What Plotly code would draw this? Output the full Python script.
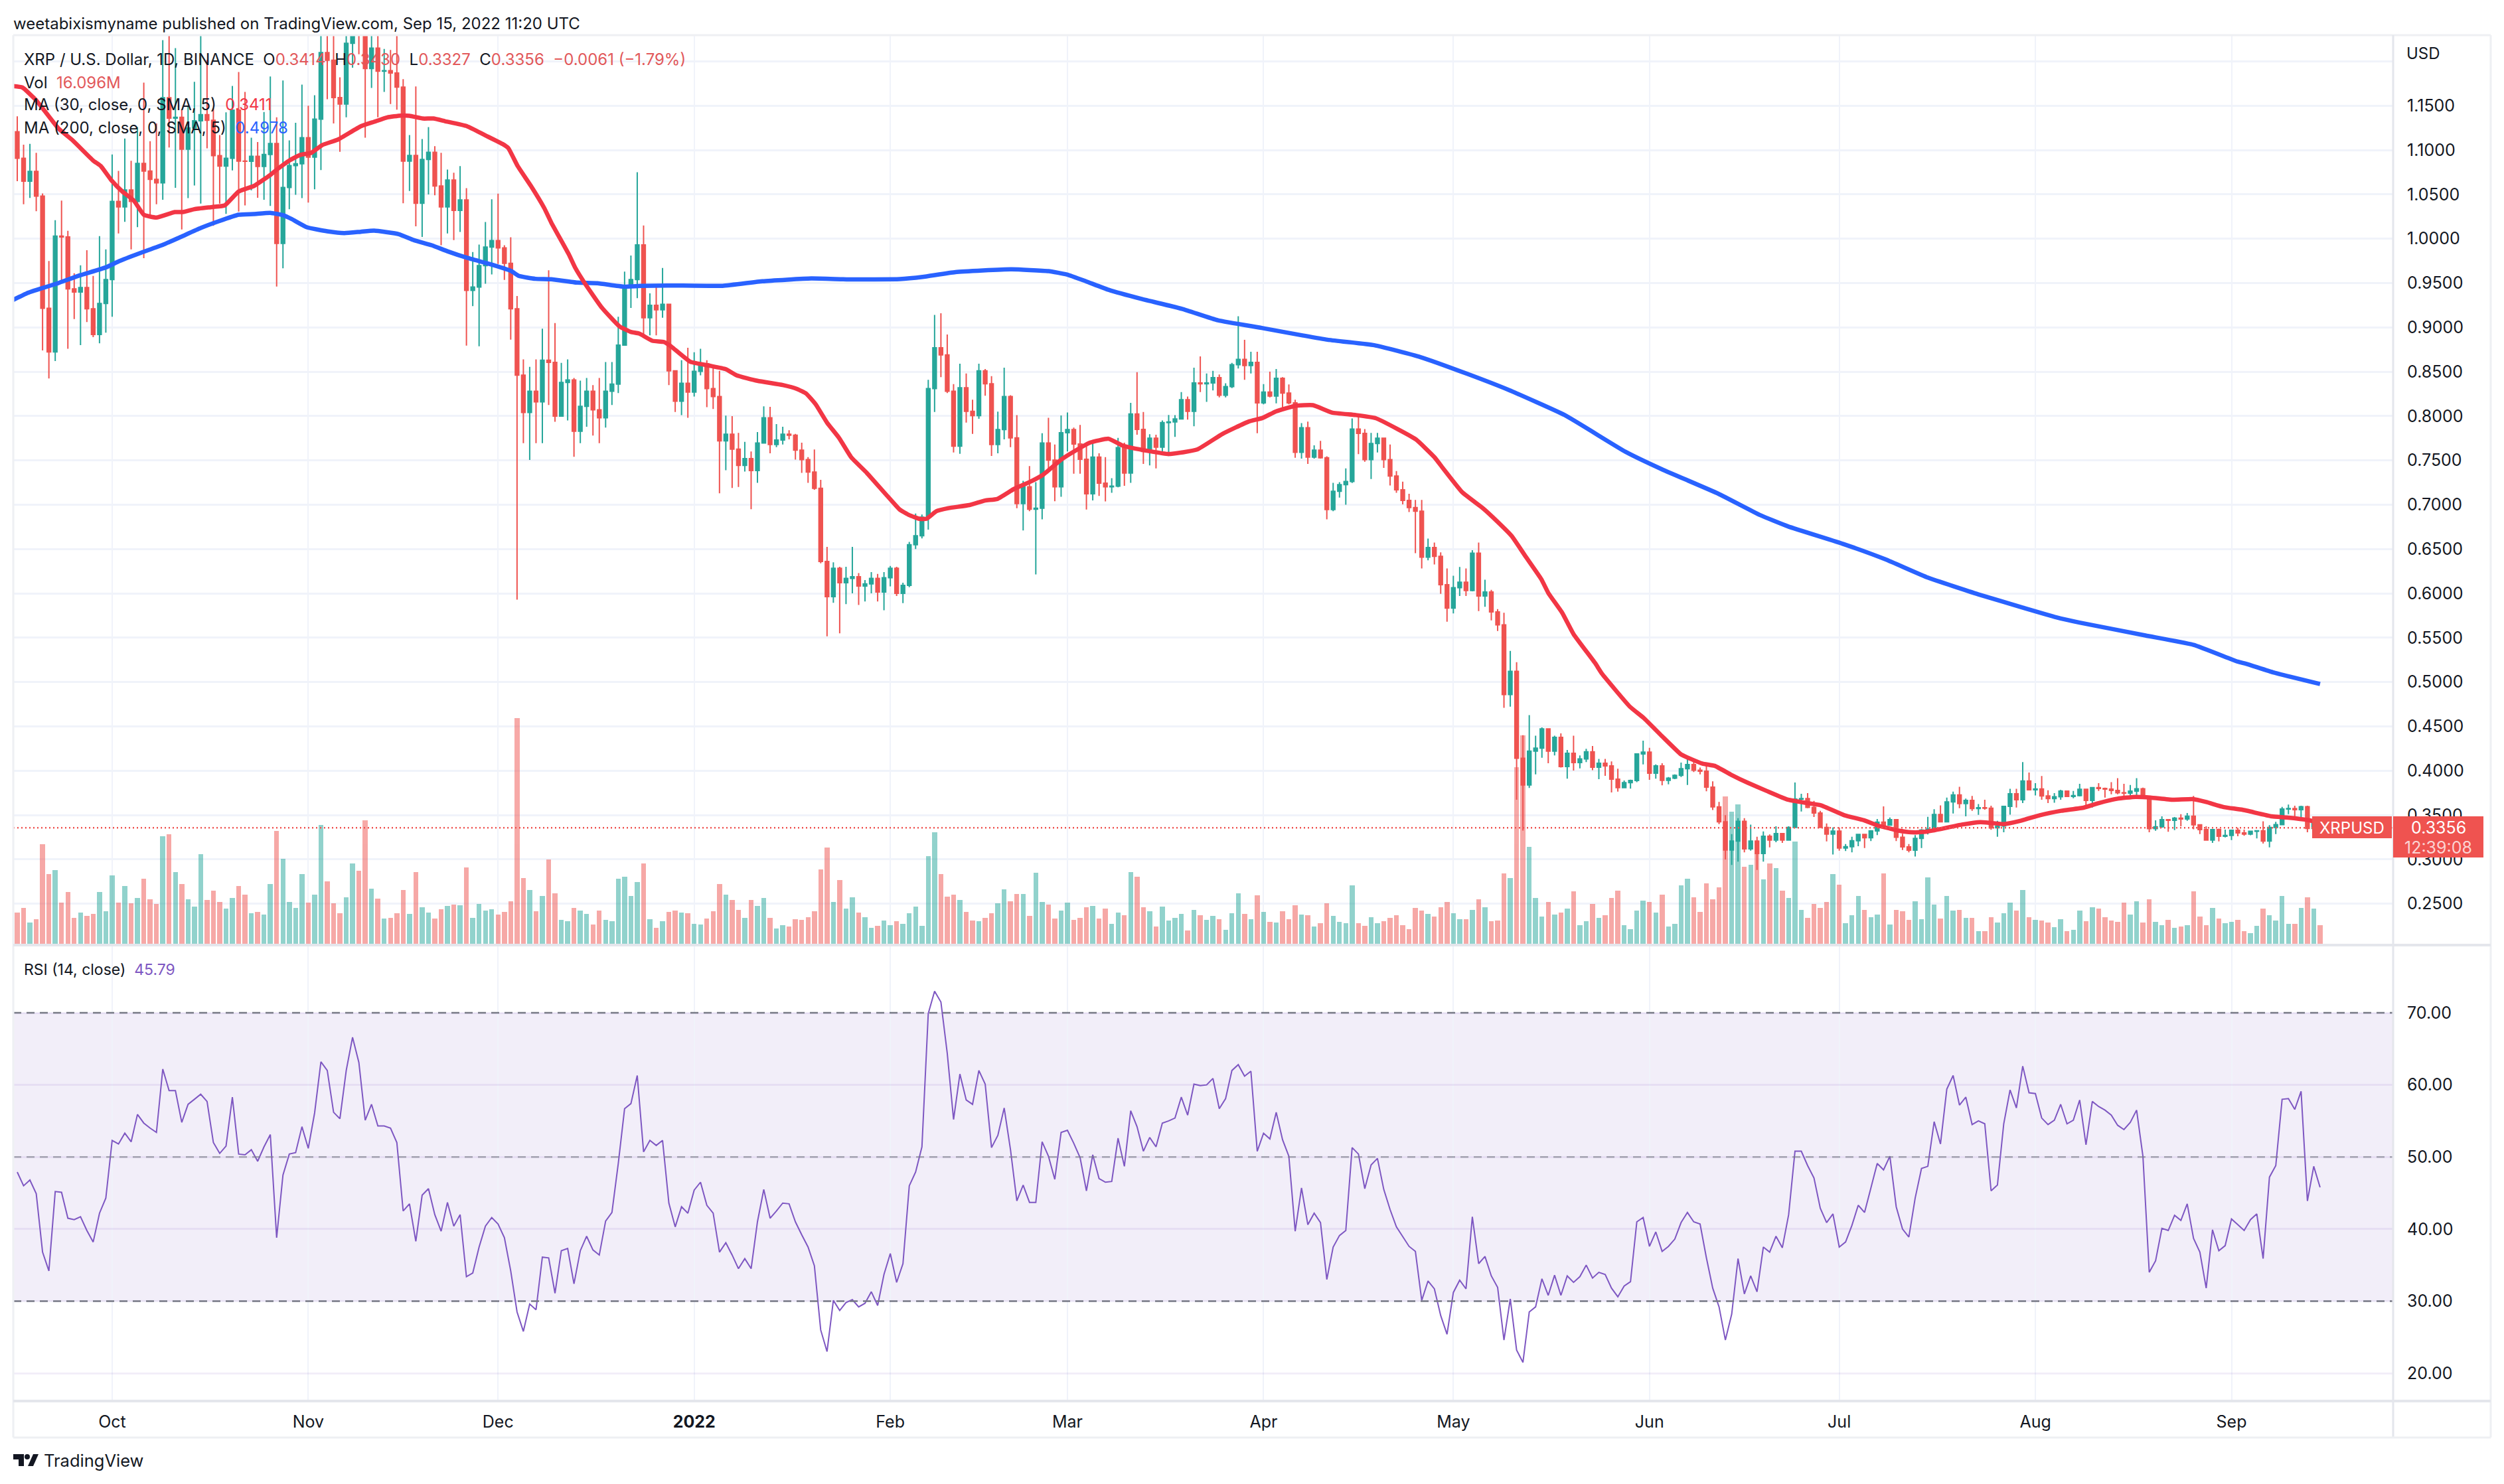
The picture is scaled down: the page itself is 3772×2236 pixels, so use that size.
import pandas as pd
import plotly.graph_objects as go

W = 3772
H = 2236
# pane edges, in page pixels
LEFT, RIGHT, OUTER = 20, 3605, 3752
TOP, PRICE_BOTTOM, RSI_TOP, RSI_BOTTOM, TIME_BOTTOM = 53, 1423, 1425, 2111, 2166

TEAL = "#26a69a"
RED = "#ef5350"
MA_RED = "#f23645"
MA_BLUE = "#2962ff"
PURPLE = "#7e57c2"
GRID = "#f0f3fa"
BORDER = "#e4e6ec"
FRAME = "#eef0f3"
INK = "#131722"
FONT = "Inter"

first_day = "2021-09-16"
first_open = 1.1207

close = [
    1.0907, 1.065, 1.076, 1.048, .9216, .8724, 1.003, 1.002, .9435, .940,
    .945, .921, .892, .927, .954, 1.042, 1.036, 1.055, 1.042, 1.085,
    1.0763, 1.067, 1.063, 1.159, 1.136, 1.137, 1.101, 1.125, 1.133, 1.140,
    1.1336, 1.0937, 1.082, 1.0907, 1.145, 1.0875, 1.0873, 1.093, 1.0815, 1.095,
    1.1074, .9947, 1.0578, 1.0825, 1.0845, 1.114, 1.092, 1.135, 1.21, 1.2013,
    1.1593, 1.1519, 1.2205, 1.27, 1.262, 1.192, 1.215, 1.189, 1.1895, 1.187,
    1.171, 1.0875, 1.094, 1.040, 1.0895, 1.0975, 1.0595, 1.036, 1.0663, 1.032,
    1.0438, .9418, .9455, .9697, .9907, .998, .9897, .9722, .921, .8462,
    .804, .828, .816, .863, .8606, .800, .838, .8407, .783, .811,
    .828, .807, .798, .828, .836, .88, .947, .954, .993, .911,
    .925, .9198, .926, .851, .8167, .837, .827, .8505, .859, .831,
    .822, .772, .7795, .7627, .7444, .752, .7386, .7696, .798, .768,
    .773, .7795, .7785, .7616, .751, .7368, .7186, .636, .5963, .6284,
    .612, .617, .6187, .6084, .6108, .617, .6015, .6177, .6284, .6,
    .609, .655, .665, .686, .831, .877, .869, .828, .766, .832,
    .8054, .8005, .851, .8364, .768, .7847, .822, .7754, .7014, .7203,
    .695, .696, .7696, .7503, .7203, .7813, .7847, .7685, .7513, .7124,
    .7537, .7244, .7203, .721, .7644, .7358, .8023, .785, .76, .775,
    .765, .7926, .7933, .7968, .8185, .8054, .8374, .8364, .8374, .8433,
    .8236, .8333, .858, .864, .857, .8605, .815, .827, .8226, .8426,
    .826, .815, .7592, .7868, .7537, .7616, .753, .6945, .7151, .7227,
    .7262, .7853, .7805, .7509, .7691, .775, .7509, .7323, .7169, .7048,
    .6969, .6928, .6408, .6518, .6419, .6099, .5834, .6064, .6126, .6033,
    .6453, .5971, .6016, .5792, .5645, .486, .5122, .4141, .384, .4222,
    .4254, .4471, .4222, .4376, .4047, .4197, .4092, .4134, .4214, .404,
    .4085, .4055, .3905, .381, .3865, .389, .419, .421, .3972, .4055,
    .3892, .3917, .3947, .4022, .407, .4005, .3995, .3815, .3593, .3423,
    .3106, .3206, .343, .3119, .3206, .3067, .3261, .3219, .3291, .3219,
    .3361, .368, .3685, .3586, .3523, .3361, .3286, .3319, .3129, .3144,
    .3211, .3281, .3244, .3321, .342, .3386, .3448, .3249, .3141, .3104,
    .3236, .3331, .3341, .3506, .3423, .3648, .3728, .363, .3665, .3573,
    .3583, .3578, .3356, .3378, .3598, .374, .3673, .3885, .3785, .3795,
    .3715, .3685, .3707, .377, .371, .372, .379, .3665, .381, .38,
    .3792, .3777, .3752, .3747, .377, .3797, .3698, .3348, .3368, .3448,
    .344, .3465, .3455, .3488, .3391, .3336, .3218, .3336, .3261, .3271,
    .3328, .3298, .3286, .3318, .3323, .3206, .3361, .3393, .3568, .3573,
    .356, .3595, .335, .3414, .3356,
]

high = [
    1.138, 1.106, 1.107, 1.097, 1.051, .975, 1.021, 1.043, 1.009, .961,
    .970, .987, .958, 1.003, .988, 1.095, 1.0765, 1.113, 1.088, 1.126,
    1.176, 1.110, 1.13, 1.224, 1.24, 1.215, 1.1456, 1.15, 1.177, 1.25,
    1.2018, 1.147, 1.117, 1.1426, 1.1723, 1.188, 1.1656, 1.114, 1.109, 1.143,
    1.183, 1.137, 1.1786, 1.111, 1.1307, 1.1738, 1.150, 1.1618, 1.24, 1.235,
    1.24, 1.182, 1.24, 1.30, 1.32, 1.33, 1.25, 1.24, 1.214, 1.213,
    1.235, 1.18, 1.117, 1.1718, 1.1124, 1.126, 1.1045, 1.097, 1.078, 1.0745,
    1.082, 1.057, .985, .9934, 1.0189, 1.0446, 1.0508, .9927, 1.0017, .9355,
    .864, .8555, .864, .8985, .9645, .905, .86, .864, .843, .84,
    .843, .835, .843, .861, .861, .912, .963, .981, 1.075, 1.015,
    .9385, .947, .967, .925, .8515, .863, .877, .872, .876, .863,
    .856, .851, .8005, .80, .781, .771, .76, .782, .811, .8105,
    .791, .788, .784, .78, .77, .7537, .7623, .728, .6525, .635,
    .63, .63, .6525, .623, .615, .624, .622, .624, .631, .63,
    .612, .658, .69, .689, .841, .914, .916, .892, .836, .859,
    .848, .8185, .859, .853, .845, .805, .8546, .8236, .801, .727,
    .7437, .7255, .7806, .798, .768, .8006, .804, .787, .79, .77,
    .771, .758, .7537, .73, .7754, .77, .815, .8495, .8047, .7795,
    .779, .795, .8012, .801, .827, .822, .8546, .8674, .848, .851,
    .847, .837, .860, .9125, .886, .8725, .8725, .836, .85, .853,
    .844, .8357, .8185, .792, .7937, .767, .772, .7547, .7248, .7255,
    .741, .7973, .80, .7853, .781, .781, .775, .768, .738, .726,
    .7124, .7055, .7055, .6618, .6573, .6463, .6281, .62, .6298, .6281,
    .6487, .6573, .6154, .604, .5823, .5782, .5352, .5225, .44, .4628,
    .4396, .4489, .4475, .4396, .4421, .4234, .4396, .4172, .4247, .4279,
    .4134, .4134, .4105, .4022, .389, .39, .4197, .4339, .4259, .4072,
    .4085, .393, .396, .4092, .416, .41, .4035, .406, .388, .3648,
    .3498, .3286, .3466, .3466, .3393, .3256, .3316, .3281, .3373, .3295,
    .3373, .3867, .374, .3748, .366, .3548, .3406, .3361, .3361, .3174,
    .3256, .329, .329, .333, .3456, .3598, .3473, .3448, .329, .3174,
    .3274, .3341, .348, .3566, .361, .3698, .3765, .3818, .3685, .3715,
    .3625, .3673, .3605, .3436, .36, .3797, .3797, .4097, .398, .386,
    .394, .378, .3747, .3785, .3772, .3772, .3852, .3797, .3815, .386,
    .381, .3872, .3917, .3852, .384, .3917, .381, .371, .344, .3485,
    .3453, .3478, .351, .3523, .3715, .3398, .3373, .3341, .3348, .3336,
    .3336, .3356, .3336, .3323, .3331, .343, .3386, .3423, .3593, .3618,
    .3605, .3605, .3605, .346, .343,
]

low = [
    1.065, 1.039, 1.046, 1.031, .874, .8425, .862, .952, .876, .9094,
    .880, .906, .889, .882, .894, .912, 1.006, 1.019, .988, 1.013,
    .978, 1.024, 1.039, 1.044, 1.103, 1.0575, 1.0104, 1.0458, 1.06, 1.0396,
    1.102, 1.0146, 1.0396, 1.028, 1.077, 1.0306, 1.0376, 1.0546, 1.0463, 1.044,
    1.037, .946, .9667, 1.0333, 1.0496, 1.0458, 1.0408, 1.0558, 1.0775, 1.1573,
    1.130, 1.098, 1.137, 1.193, 1.208, 1.114, 1.170, 1.137, 1.1656, 1.152,
    1.1456, 1.040, 1.0538, 1.014, 1.002, 1.050, 1.049, .9927, 1.006, .9984,
    1.0076, .8794, .924, .8787, .9493, .9597, .9715, .9535, .8862, .593,
    .7695, .7505, .7695, .7695, .8125, .7935, .802, .795, .754, .7695,
    .788, .778, .7695, .787, .8125, .826, .8795, .922, .933, .890,
    .891, .891, .911, .835, .8047, .801, .798, .822, .846, .81,
    .808, .713, .739, .719, .720, .7375, .695, .7248, .77, .758,
    .765, .768, .7737, .751, .736, .7248, .7169, .634, .5516, .5894,
    .555, .588, .6, .587, .591, .6, .591, .581, .608, .597,
    .589, .607, .65, .662, .672, .8047, .844, .826, .759, .7575,
    .7926, .78, .797, .823, .755, .758, .7737, .765, .696, .671,
    .6928, .6215, .6835, .741, .704, .709, .76, .735, .735, .6945,
    .7048, .71, .7038, .7134, .7196, .7213, .7248, .779, .746, .7444,
    .741, .7558, .7548, .7765, .796, .796, .7885, .827, .816, .829,
    .821, .821, .8315, .8536, .841, .848, .7806, .8133, .821, .8143,
    .808, .8133, .753, .752, .746, .752, .752, .6835, .6928, .708,
    .70, .7245, .757, .7485, .729, .759, .7416, .7217, .7134, .7003,
    .6917, .6453, .6281, .6374, .6326, .5995, .568, .5775, .597, .597,
    .6023, .58, .585, .5696, .5576, .4709, .4723, .3673, .3324, .3805,
    .396, .4147, .4085, .4172, .4035, .391, .4002, .4027, .4097, .4005,
    .3905, .3942, .3755, .3765, .3805, .3798, .3872, .4072, .3897, .391,
    .3835, .3847, .3905, .393, .384, .3985, .396, .3768, .3556, .3398,
    .2999, .2937, .2974, .3079, .3099, .2882, .2974, .3136, .3194, .3186,
    .3215, .3354, .354, .3578, .3478, .3356, .3204, .3056, .3099, .3094,
    .3079, .3149, .3129, .3206, .3274, .336, .3386, .3206, .3106, .3079,
    .3032, .3129, .3281, .3324, .3418, .3423, .3518, .3578, .3486, .3548,
    .3503, .356, .3335, .3256, .3306, .3505, .3585, .3635, .3783, .3722,
    .3673, .3635, .364, .3673, .3703, .369, .371, .361, .3585, .3772,
    .3698, .3735, .3735, .3673, .368, .371, .3685, .3306, .3323, .3356,
    .3311, .333, .3373, .3436, .334, .3286, .3211, .3186, .3203, .3248,
    .3218, .3261, .3266, .3273, .3236, .3179, .3136, .3286, .3386, .351,
    .3485, .3478, .3306, .334, .3327,
]

# millions
volume = [
    27.2, 31.2, 18.6, 21.5, 85.9, 60.2, 63.7, 35.7, 44.8, 22.6,
    27.2, 24.3, 26.0, 44.8, 28.3, 59.1, 35.7, 50.0, 35.2, 39.7,
    56.2, 38.6, 34.6, 92.7, 94.4, 61.9, 51.7, 38.6, 32.3, 77.3,
    38.0, 46.0, 36.3, 30.6, 39.7, 50.0, 42.6, 26.6, 27.7, 25.5,
    51.7, 97.3, 73.3, 36.3, 31.2, 60.2, 35.7, 42.6, 102.4, 54.0,
    35.2, 26.6, 40.3, 69.4, 63.1, 106.4, 47.7, 39.1, 22.0, 22.6,
    26.6, 46.6, 26.0, 61.9, 31.7, 27.2, 22.0, 30.0, 32.9, 34.0,
    33.4, 65.9, 22.6, 34.6, 28.9, 30.0, 25.5, 27.7, 36.9, 194.2,
    56.8, 46.6, 28.3, 41.4, 72.8, 43.7, 20.9, 19.8, 31.2, 28.9,
    26.0, 16.9, 28.9, 20.9, 19.8, 56.2, 58.0, 41.4, 53.4, 69.4,
    21.5, 14.1, 19.8, 27.7, 28.9, 27.2, 26.6, 17.5, 16.9, 22.0,
    28.3, 51.7, 42.6, 38.0, 29.5, 22.6, 38.0, 32.9, 39.7, 22.6,
    13.5, 16.3, 15.2, 21.5, 20.9, 23.2, 28.3, 64.2, 83.0, 36.3,
    55.1, 30.6, 40.3, 27.2, 23.2, 14.1, 15.8, 20.3, 16.3, 19.8,
    17.5, 26.6, 32.3, 15.8, 75.6, 96.1, 60.2, 40.9, 42.6, 38.0,
    27.7, 20.3, 19.8, 22.6, 26.6, 35.2, 47.1, 36.9, 43.1, 43.1,
    24.3, 61.4, 36.3, 34.0, 22.0, 28.9, 35.7, 20.9, 22.6, 31.7,
    32.9, 22.0, 30.6, 17.5, 27.2, 24.9, 61.9, 58.0, 31.7, 28.3,
    15.2, 32.3, 20.3, 22.6, 26.0, 11.8, 29.5, 24.9, 20.9, 24.3,
    21.5, 12.4, 26.6, 43.7, 26.0, 21.5, 42.0, 27.7, 19.2, 18.6,
    28.3, 21.5, 33.4, 25.5, 24.9, 15.2, 18.1, 35.2, 24.3, 19.2,
    18.1, 50.5, 18.1, 15.8, 23.2, 18.1, 19.8, 22.6, 24.9, 16.3,
    12.9, 31.2, 28.9, 26.0, 23.8, 31.7, 36.3, 26.6, 21.5, 21.5,
    29.5, 38.6, 31.7, 19.8, 20.3, 60.8, 56.8, 152.0, 179.4, 83.6,
    39.7, 23.8, 36.3, 25.5, 27.2, 30.6, 45.4, 16.3, 19.8, 34.6,
    22.6, 24.9, 39.7, 46.0, 16.3, 12.9, 28.9, 37.4, 36.3, 27.2,
    42.6, 15.2, 17.5, 50.5, 56.2, 40.3, 27.7, 52.3, 38.6, 48.8,
    126.9, 113.8, 120.1, 66.5, 68.0, 78.9, 55.7, 69.2, 65.4, 46.0,
    39.7, 88.0, 29.5, 22.6, 34.6, 31.2, 36.3, 60.2, 51.1, 18.1,
    24.9, 41.4, 29.5, 23.2, 25.5, 60.8, 16.9, 29.5, 28.3, 20.9,
    36.9, 21.5, 57.4, 34.0, 22.0, 41.4, 28.9, 29.5, 22.4, 22.4,
    11.2, 11.2, 23.2, 18.6, 26.6, 35.7, 28.9, 46.6, 23.2, 20.9,
    20.3, 18.6, 14.6, 21.5, 11.2, 12.4, 28.9, 19.8, 31.7, 30.6,
    23.2, 20.3, 19.2, 35.7, 25.5, 36.9, 18.6, 38.6, 19.2, 16.3,
    20.9, 14.1, 15.2, 16.3, 45.4, 23.8, 16.3, 31.2, 22.0, 18.1,
    19.2, 20.9, 11.2, 9.5, 15.8, 30.6, 24.9, 20.3, 41.4, 17.5,
    17.5, 31.2, 40.3, 30.6, 16.096,
]

rsi = [
    47.9, 46.0, 46.8, 44.9, 36.8, 34.2, 45.2, 45.1, 41.5, 41.3,
    41.7, 39.8, 38.2, 42.2, 44.3, 52.3, 51.8, 53.3, 52.1, 55.9,
    54.7, 54.0, 53.4, 62.2, 59.2, 59.2, 54.8, 57.3, 58.0, 58.7,
    57.7, 52.0, 50.5, 51.5, 58.3, 50.4, 50.3, 51.0, 49.4, 51.4,
    53.1, 38.8, 47.5, 50.4, 50.6, 54.2, 51.2, 56.1, 63.2, 62.0,
    56.2, 55.3, 62.0, 66.6, 63.1, 55.1, 57.3, 54.3, 54.3, 54.0,
    52.0, 42.5, 43.5, 38.3, 44.7, 45.6, 42.0, 39.7, 43.7, 40.4,
    42.0, 33.4, 33.9, 37.5, 40.4, 41.6, 40.7, 38.8, 34.2, 28.5,
    25.8, 29.6, 28.8, 36.1, 36.0, 31.1, 37.0, 37.3, 32.4, 37.0,
    39.0, 37.1, 36.4, 41.1, 42.3, 49.1, 56.7, 57.4, 61.3, 50.7,
    52.3, 51.6, 52.3, 43.6, 40.3, 43.1, 42.2, 45.4, 46.5, 43.3,
    42.2, 36.8, 38.1, 36.4, 34.5, 35.9, 34.5, 41.0, 45.5, 41.5,
    42.5, 43.6, 43.5, 41.0, 39.2, 37.5, 34.9, 26.0, 23.0, 30.1,
    28.7, 29.8, 30.2, 29.2, 29.7, 31.3, 29.4, 33.7, 36.6, 32.6,
    35.2, 46.0, 47.9, 51.4, 69.9, 73.0, 71.5, 64.4, 55.2, 61.5,
    57.9, 57.3, 62.0, 60.1, 51.3, 53.0, 56.8, 51.0, 43.9, 46.1,
    43.7, 43.7, 52.1, 50.1, 46.9, 53.4, 53.7, 51.9, 49.9, 45.3,
    50.3, 47.0, 46.5, 46.6, 52.6, 48.7, 56.4, 54.2, 50.8, 52.7,
    51.4, 54.7, 55.0, 55.4, 58.3, 55.8, 60.1, 59.9, 60.0, 60.9,
    56.7, 58.1, 62.0, 62.8, 61.2, 61.9, 50.8, 53.3, 52.5, 56.2,
    52.4, 50.1, 39.7, 45.7, 40.6, 42.2, 40.9, 33.0, 37.5, 39.1,
    39.8, 51.3, 50.4, 45.6, 48.9, 49.8, 45.5, 42.7, 40.3, 38.9,
    37.6, 36.9, 30.1, 32.8, 31.7, 28.0, 25.4, 31.2, 32.9, 31.7,
    41.7, 35.2, 36.2, 33.5, 31.9, 24.6, 30.3, 23.2, 21.5, 28.5,
    29.2, 33.1, 30.8, 33.6, 30.8, 33.5, 32.6, 33.4, 35.0, 33.2,
    34.0, 33.7, 31.8, 30.6, 32.1, 32.7, 41.0, 41.6, 37.6, 39.6,
    36.9, 37.6, 38.6, 40.9, 42.3, 41.0, 40.7, 36.0, 31.8, 29.2,
    24.6, 28.2, 35.9, 31.0, 33.5, 31.3, 37.5, 36.8, 39.0, 37.4,
    42.0, 50.8, 50.8, 48.8, 47.1, 42.9, 40.9, 42.1, 37.5, 38.2,
    40.5, 43.3, 42.3, 45.7, 49.1, 48.2, 50.1, 43.1, 40.0, 38.9,
    44.3, 48.4, 48.7, 54.9, 51.8, 59.4, 61.3, 57.2, 58.3, 54.5,
    55.0, 54.6, 45.3, 46.1, 54.6, 59.3, 56.8, 62.6, 58.9, 58.8,
    55.4, 54.5, 55.1, 57.3, 54.6, 55.1, 57.9, 51.7, 57.7, 57.0,
    56.5, 55.8, 54.4, 53.8, 54.8, 56.5, 50.1, 34.0, 35.6, 40.1,
    39.8, 41.9, 41.2, 43.5, 38.7, 36.8, 31.8, 39.9, 37.0, 37.7,
    41.4, 40.6, 39.8, 41.3, 42.1, 35.9, 47.2, 48.8, 58.0, 58.1,
    56.6, 59.1, 43.9, 48.7, 45.79,
]

# moving averages, read at days counted from first_day
ma30_days = [
    -1, .8, 2.9, 4.3, 6.5, 8.8, 12, 13.2, 14.9, 16.6, 18.4, 20, 22, 24.9, 26.2, 28, 30.8, 32.8, 35, 37.4,
    40, 41.3, 43, 44.7, 46.5, 48.2, 50.7, 54.3, 56.4, 58.5, 60.6, 62, 64.1, 65.8, 67.6, 71.1, 73.9, 76.7, 77.6, 79.1,
    81.2, 83.3, 84.4, 87.2, 88.2, 89.6, 92.4, 95.2, 97, 98.3, 100.4, 102.2, 103.2, 106.4, 109.3, 112, 113.7, 117, 121, 123.3,
    124.7, 126.2, 128, 129.9, 131.8, 134.3, 137.3, 139.5, 141, 142.6, 143.7, 145.3, 147.2, 150.5, 153, 154.9, 157.5, 160, 162.2, 165.1,
    167.4, 169.6, 172.5, 174.7, 176.2, 182, 186.5, 190.5, 194.6, 196.8, 199, 202, 204.8, 207.8, 211.5, 214.7, 218.2, 221.1, 224, 225.5,
    228.4, 231.7, 233.9, 236.2, 238.4, 240.9, 242, 244.2, 246, 249.4, 250.5, 254.9, 257.1, 260, 263, 264.5, 266.4, 268.3, 270.9, 273.5,
    276.5, 279.9, 282.9, 285.1, 288.8, 291.9, 294.1, 296, 297.5, 299.4, 301.6, 303.9, 307.4, 310.3, 312, 314, 316.7, 319.7, 323.1, 326.7,
    329, 332, 334.8, 337.2, 340.7, 343.9, 346, 348.8, 351.7, 356.4, 358.7, 362.2, 364,
]
ma30 = [
    1.1723, 1.1706, 1.1569, 1.1444, 1.1244, 1.1107, 1.0882, 1.082, 1.0658, 1.0533, 1.0433, 1.0271, 1.0239, 1.0301, 1.0301, 1.0334, 1.0358, 1.0376, 1.0533, 1.0595,
    1.072, 1.0795, 1.0882, 1.0945, 1.097, 1.1057, 1.1119, 1.1269, 1.1319, 1.1369, 1.1389, 1.1386, 1.1356, 1.1356, 1.1326, 1.1269, 1.1169, 1.1069, 1.1025, 1.082,
    1.0595, 1.0346, 1.0184, .9822, .9672, .951, .9223, .9011, .8949, .8931, .8849, .8836, .8794, .8612, .857, .8529, .846, .8398, .835, .8305,
    .8254, .8133, .7926, .7754, .7537, .7358, .7117, .6945, .6883, .6841, .6841, .6928, .6962, .6996, .7048, .7065, .7176, .7255, .7341, .7513,
    .7616, .7702, .7744, .7668, .7641, .7572, .7623, .7799, .7937, .7978, .8054, .8116, .8123, .804, .8012, .7977, .7853, .7736, .7537, .7399,
    .7141, .6959, .6814, .6649, .6419, .6161, .6006, .5782, .5541, .5215, .5094, .4723, .4595, .4389, .4184, .4134, .408, .4055, .3955, .3865,
    .3773, .3673, .3635, .361, .3498, .3441, .3381, .3348, .3323, .3306, .3311, .3341, .3393, .3421, .3411, .3398, .3436, .3498, .3548, .3585,
    .3635, .3685, .3705, .3698, .3673, .368, .3647, .359, .356, .3485, .3473, .3443, .3411,
]
ma200_days = [
    -1, 1.5, 3.6, 6.4, 9.8, 14, 16.1, 19.3, 23.1, 25.9, 29, 31.8, 35, 37.4, 40, 42, 43.4, 45.8, 49, 51.7,
    54.3, 56.4, 60.3, 62.7, 65.5, 68, 71.1, 74.9, 78.1, 79.3, 81.9, 84.4, 88.5, 91.7, 95.8, 98.6, 102.8, 111.5, 117.8, 125.5,
    131.4, 139.5, 143.1, 148.3, 157, 163, 165.9, 168.9, 172.5, 177.7, 184.2, 189.8, 196.7, 203.3, 207.1, 214.5, 221.8, 229.2, 235.8, 244.6,
    254.2, 260, 268.9, 275.5, 279.9, 288.7, 295.3, 302, 310, 317.3, 322.3, 326, 336.4, 344, 351, 352.3, 356.7, 364,
]
ma200 = [
    .9298, .9385, .9435, .9498, .9585, .9677, .9747, .9835, .9934, 1.0022, 1.0121, 1.0196, 1.0271, 1.0279, 1.0291, 1.0266, 1.0221, 1.0129, 1.0084, 1.0064,
    1.0079, 1.0091, 1.0052, .9984, .9927, .9859, .9785, .971, .9635, .958, .9548, .9543, .9505, .9498, .946, .9468, .9473, .9469, .9521, .9552,
    .9542, .9545, .9569, .9624, .9655, .9635, .9597, .9521, .9424, .9321, .9208, .908, .8994, .8908, .8861, .8799, .8665, .8476, .8293, .8011,
    .7598, .7399, .7124, .6883, .6756, .6556, .6384, .6178, .5989, .5834, .5731, .5671, .5525, .542, .523, .5207, .5107, .4978,
]

price_ticks = [.25, .30, .35, .40, .45, .50, .55, .60, .65, .70, .75, .80, .85, .90, .95, 1.00, 1.05, 1.10, 1.15, 1.20]
# the 1.20 gridline has no label, "USD" sits there
price_labels = ["0.2500", "0.3000", "0.3500", "0.4000", "0.4500", "0.5000", "0.5500", "0.6000", "0.6500", "0.7000",
                "0.7500", "0.8000", "0.8500", "0.9000", "0.9500", "1.0000", "1.0500", "1.1000", "1.1500", ""]
rsi_ticks = [20, 30, 40, 50, 60, 70]
month_ticks = ["2021-10-01", "2021-11-01", "2021-12-01", "2022-01-01", "2022-02-01", "2022-03-01",
               "2022-04-01", "2022-05-01", "2022-06-01", "2022-07-01", "2022-08-01", "2022-09-01"]
month_labels = ["Oct", "Nov", "Dec", "<b>2022</b>", "Feb", "Mar", "Apr", "May", "Jun", "Jul", "Aug", "Sep"]
last_price = 0.3356

start = pd.Timestamp(first_day)
dates = pd.date_range(start, periods=len(close), freq="D")
opens = [first_open] + close[:-1]
ma30_x = start + pd.to_timedelta(ma30_days, unit="D")
ma200_x = start + pd.to_timedelta(ma200_days, unit="D")

# 9.53 px per day, first bar sits at x=26
x_from = start + pd.Timedelta(days=(LEFT - 26) / 9.53)
x_to = start + pd.Timedelta(days=(RIGHT - 26) / 9.53)


def px(x):
    return x / W


def py(y):
    return 1 - y / H


def label(x, y, text, size=24, color=INK, anchor="left", family=FONT):
    return dict(
        x=px(x), y=py(y), xref="paper", yref="paper", text=text, showarrow=False,
        xanchor=anchor, yanchor="middle", font=dict(size=size, color=color, family=family),
        borderpad=0, borderwidth=0,
    )


def red_val(s):
    return f'<span style="color:#e2585a">{s}</span>'


def box(x0, y0, x1, y1, color):
    return dict(type="rect", xref="paper", yref="paper", x0=px(x0), x1=px(x1), y0=py(y0), y1=py(y1),
                fillcolor=color, line_width=0, layer="above")


def rule(x0, y0, x1, y1, width=3, color=BORDER):
    return dict(type="line", xref="paper", yref="paper", x0=px(x0), x1=px(x1), y0=py(y0), y1=py(y1),
                line=dict(color=color, width=width), layer="above")


fig = go.Figure()

fig.add_trace(go.Bar(
    x=dates, y=volume, yaxis="y", xaxis="x",
    marker=dict(color=[TEAL if c >= o else RED for o, c in zip(opens, close)], line_width=0),
    opacity=0.5, width=0.78 * 86400000,
))
fig.add_trace(go.Candlestick(
    x=dates, open=opens, high=high, low=low, close=close, yaxis="y3", xaxis="x",
    increasing=dict(line=dict(color=TEAL, width=2), fillcolor=TEAL),
    decreasing=dict(line=dict(color=RED, width=2), fillcolor=RED),
    whiskerwidth=0,
))
fig.add_trace(go.Scatter(x=ma200_x, y=ma200, yaxis="y3", xaxis="x", mode="lines",
                         line=dict(color=MA_BLUE, width=6.5, shape="spline", smoothing=0.4)))
fig.add_trace(go.Scatter(x=ma30_x, y=ma30, yaxis="y3", xaxis="x", mode="lines",
                         line=dict(color=MA_RED, width=6.5, shape="spline", smoothing=0.4)))
fig.add_trace(go.Scatter(x=dates, y=rsi, yaxis="y2", xaxis="x2", mode="lines",
                         line=dict(color=PURPLE, width=2)))

shapes = [
    # rsi band and levels
    dict(type="rect", xref="x2", yref="y2", x0=x_from, x1=x_to, y0=30, y1=70,
         fillcolor="rgba(126,87,194,0.1)", line_width=0, layer="below"),
    dict(type="line", xref="x2", yref="y2", x0=x_from, x1=x_to, y0=70, y1=70,
         line=dict(color="#787b86", width=2.5, dash="12px 8px")),
    dict(type="line", xref="x2", yref="y2", x0=x_from, x1=x_to, y0=50, y1=50,
         line=dict(color="rgba(120,123,134,0.6)", width=2.5, dash="12px 8px")),
    dict(type="line", xref="x2", yref="y2", x0=x_from, x1=x_to, y0=30, y1=30,
         line=dict(color="#787b86", width=2.5, dash="12px 8px")),
    # last price line
    dict(type="line", xref="x", yref="y3", x0=x_from, x1=x_to, y0=last_price, y1=last_price,
         line=dict(color=RED, width=2.5, dash="2px 4px")),
    # frame
    rule(LEFT, TOP, OUTER, TOP, color=FRAME),
    rule(LEFT, TOP, LEFT, TIME_BOTTOM, color=FRAME),
    rule(RIGHT, TOP, RIGHT, TIME_BOTTOM),
    rule(OUTER, TOP, OUTER, TIME_BOTTOM, color=FRAME),
    rule(LEFT, PRICE_BOTTOM + 1, OUTER, PRICE_BOTTOM + 1, width=4),
    rule(LEFT, RSI_BOTTOM, OUTER, RSI_BOTTOM, width=4),
    rule(LEFT, TIME_BOTTOM, OUTER, TIME_BOTTOM, color=FRAME),
    # price tags
    box(3483, 1230, 3603, 1263, RED),
    box(3605, 1230, 3741, 1292, RED),
    # tradingview mark
    dict(type="path", xref="paper", yref="paper", fillcolor=INK, line_width=0, layer="above",
         path=f"M {px(20)} {py(2191)} L {px(36)} {py(2191)} L {px(36)} {py(2209)} L {px(28)} {py(2209)} "
              f"L {px(28)} {py(2199)} L {px(20)} {py(2199)} Z"),
    dict(type="circle", xref="paper", yref="paper", fillcolor=INK, line_width=0, layer="above",
         x0=px(37), x1=px(45), y0=py(2191), y1=py(2199)),
    dict(type="path", xref="paper", yref="paper", fillcolor=INK, line_width=0, layer="above",
         path=f"M {px(50)} {py(2191)} L {px(58)} {py(2191)} L {px(50)} {py(2209)} L {px(42)} {py(2209)} Z"),
]

sp = "\u00a0"
annotations = [
    label(20, 36, "weetabixismyname published on TradingView.com, Sep 15, 2022 11:20 UTC"),
    label(36, 90, f"XRP / U.S. Dollar, 1D, BINANCE{sp}{sp}O{red_val('0.3414')}{sp}{sp}H{red_val('0.3430')}{sp}{sp}"
                  f"L{red_val('0.3327')}{sp}{sp}C{red_val('0.3356')}{sp}{sp}{red_val('−0.0061 (−1.79%)')}"),
    label(36, 124, f"Vol{sp}{sp}{red_val('16.096M')}"),
    label(36, 158, f'MA (30, close, 0, SMA, 5){sp}{sp}<span style="color:#f23645">0.3411</span>'),
    label(36, 192, f'MA (200, close, 0, SMA, 5){sp}{sp}<span style="color:#2962ff">0.4978</span>'),
    label(36, 1461, f'RSI (14, close){sp}{sp}<span style="color:#7e57c2">45.79</span>', size=23),
    label(3625, 80, "USD"),
    label(3543, 1247, "XRPUSD", color="#ffffff", anchor="center"),
    label(3673, 1247, "0.3356", size=25, color="#ffffff", anchor="center"),
    label(3673, 1277, "12:39:08", size=25, color="rgba(255,255,255,0.75)", anchor="center"),
    label(66, 2200, "TradingView", size=25.5),
]

fig.update_layout(
    width=W, height=H, autosize=False, margin=dict(l=0, r=0, t=0, b=0, autoexpand=False),
    paper_bgcolor="#ffffff", plot_bgcolor="#ffffff", showlegend=False,
    boxgap=0.25, boxgroupgap=0.25, bargap=0,
    font=dict(family=FONT, size=25, color=INK),
    shapes=shapes, annotations=annotations,
    xaxis=dict(domain=[px(LEFT), px(RIGHT)], range=[x_from, x_to], anchor="y", type="date",
               rangeslider_visible=False, tickvals=month_ticks, ticktext=month_labels, showticklabels=False,
               showgrid=True, gridcolor=GRID, gridwidth=2, zeroline=False, ticks=""),
    xaxis2=dict(domain=[px(LEFT), px(RIGHT)], range=[x_from, x_to], anchor="y2", type="date",
                tickvals=month_ticks, ticktext=month_labels, showgrid=True, gridcolor=GRID, gridwidth=2,
                zeroline=False, ticks="", ticklabelstandoff=14, tickfont=dict(size=25, color=INK)),
    # volume sits underneath, price overlays it
    yaxis=dict(domain=[py(PRICE_BOTTOM), py(TOP)], range=[-0.25, 780], visible=False, anchor="x"),
    yaxis3=dict(domain=[py(PRICE_BOTTOM), py(TOP)], range=[.2041, 1.2296], overlaying="y", anchor="x", side="right",
                tickvals=price_ticks, ticktext=price_labels, showgrid=True, gridcolor=GRID, gridwidth=3,
                zeroline=False, ticks="", ticklabelstandoff=20, tickfont=dict(size=25, color=INK)),
    yaxis2=dict(domain=[py(RSI_BOTTOM), py(RSI_TOP)], range=[16.14, 79.3], anchor="x2", side="right",
                tickvals=rsi_ticks, tickformat=".2f", showgrid=True, gridcolor="rgba(126,87,194,0.1)", gridwidth=3,
                zeroline=False, ticks="", ticklabelstandoff=20, tickfont=dict(size=25, color=INK)),
)

fig.write_html("out.html", config={"displayModeBar": False},
               post_script="document.body.style.margin='0';document.body.style.overflow='hidden';")
